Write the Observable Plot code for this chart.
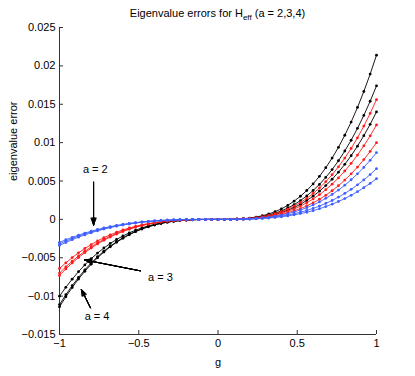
<!DOCTYPE html>
<html><head><meta charset="utf-8">
<script src="https://cdn.jsdelivr.net/npm/d3@7"></script>
<script src="https://cdn.jsdelivr.net/npm/@observablehq/plot@0.6"></script>
<style>
body{margin:0;background:#fff;font-family:"Liberation Sans",Arial,sans-serif;}
#title{position:relative;height:20px;width:415px;}
#title div{position:absolute;left:59px;width:317px;top:7px;text-align:center;font-size:11px;line-height:12px;color:#000;white-space:nowrap}
#title sub{font-size:8px;vertical-align:-3px;line-height:0}
</style></head><body>
<div id="title"><div>Eigenvalue errors for H<sub>eff</sub> (a = 2,3,4)</div></div>
<div id="chart"></div>
<script>
const gValues = [-1,-0.96,-0.92,-0.88,-0.84,-0.8,-0.76,-0.72,-0.68,-0.64,-0.6,-0.56,-0.52,-0.48,-0.44,-0.4,-0.36,-0.32,-0.28,-0.24,-0.2,-0.16,-0.12,-0.08,-0.04,0,0.04,0.08,0.12,0.16,0.2,0.24,0.28,0.32,0.36,0.4,0.44,0.48,0.52,0.56,0.6,0.64,0.68,0.72,0.76,0.8,0.84,0.88,0.92,0.96,1];

// a = 4 (black)
const black1 = [-0.01,-0.00885,-0.00779,-0.00681,-0.00593,-0.00512,-0.00439,-0.00373,-0.00314,-0.00262,-0.00216,-0.00176,-0.00141,-0.00111,-0.00085,-0.00064,-0.00047,-0.00033,-0.00022,-0.00014,-0.00008,-0.00004,-0.00002,-0.00001,0,0,0,0.00001,0.00004,0.00009,0.00017,0.0003,0.00047,0.0007,0.001,0.00137,0.00182,0.00237,0.00301,0.00376,0.00462,0.00561,0.00673,0.00799,0.00939,0.01096,0.01268,0.01458,0.01666,0.01893,0.0214];
const black2 = [-0.0111,-0.00982,-0.00864,-0.00756,-0.00658,-0.00568,-0.00487,-0.00414,-0.00349,-0.00291,-0.0024,-0.00195,-0.00156,-0.00123,-0.00095,-0.00071,-0.00052,-0.00036,-0.00024,-0.00015,-0.00009,-0.00005,-0.00002,-0.00001,0,0,0,0.00001,0.00003,0.00007,0.00014,0.00024,0.00038,0.00057,0.00081,0.00111,0.00148,0.00192,0.00245,0.00306,0.00376,0.00456,0.00547,0.00649,0.00764,0.00891,0.01031,0.01186,0.01355,0.01539,0.0174];
const black3 = [-0.0114,-0.01009,-0.00888,-0.00777,-0.00676,-0.00584,-0.005,-0.00426,-0.00358,-0.00299,-0.00246,-0.002,-0.0016,-0.00126,-0.00097,-0.00073,-0.00053,-0.00037,-0.00025,-0.00016,-0.00009,-0.00005,-0.00002,-0.00001,0,0,0,0.00001,0.00002,0.00006,0.00011,0.00019,0.00031,0.00046,0.00065,0.0009,0.00119,0.00155,0.00197,0.00246,0.00302,0.00367,0.0044,0.00523,0.00615,0.00717,0.0083,0.00954,0.0109,0.01239,0.014];
// a = 3 (red)
const red1 = [-0.0064,-0.00566,-0.00498,-0.00436,-0.00379,-0.00328,-0.00281,-0.00239,-0.00201,-0.00168,-0.00138,-0.00112,-0.0009,-0.00071,-0.00055,-0.00041,-0.0003,-0.00021,-0.00014,-0.00009,-0.00005,-0.00003,-0.00001,0,0,0,0,0.00001,0.00003,0.00006,0.00012,0.00022,0.00034,0.00051,0.00073,0.001,0.00133,0.00173,0.00219,0.00274,0.00337,0.00409,0.00491,0.00582,0.00685,0.00799,0.00925,0.01063,0.01215,0.0138,0.0156];
const red2 = [-0.007,-0.00619,-0.00545,-0.00477,-0.00415,-0.00358,-0.00307,-0.00261,-0.0022,-0.00184,-0.00151,-0.00123,-0.00098,-0.00077,-0.0006,-0.00045,-0.00033,-0.00023,-0.00015,-0.0001,-0.00006,-0.00003,-0.00001,0,0,0,0,0.00001,0.00002,0.00005,0.0001,0.00017,0.00027,0.0004,0.00057,0.00079,0.00105,0.00136,0.00173,0.00216,0.00266,0.00322,0.00387,0.00459,0.0054,0.0063,0.00729,0.00838,0.00958,0.01088,0.0123];
const red3 = [-0.0073,-0.00646,-0.00568,-0.00497,-0.00433,-0.00374,-0.0032,-0.00272,-0.0023,-0.00191,-0.00158,-0.00128,-0.00103,-0.00081,-0.00062,-0.00047,-0.00034,-0.00024,-0.00016,-0.0001,-0.00006,-0.00003,-0.00001,0,0,0,0,0.00001,0.00002,0.00004,0.00008,0.00014,0.00022,0.00033,0.00047,0.00064,0.00085,0.00111,0.00141,0.00176,0.00216,0.00262,0.00314,0.00373,0.00439,0.00512,0.00593,0.00681,0.00779,0.00885,0.01];
// a = 2 (blue)
const blue1 = [-0.003,-0.00265,-0.00234,-0.00204,-0.00178,-0.00154,-0.00132,-0.00112,-0.00094,-0.00079,-0.00065,-0.00053,-0.00042,-0.00033,-0.00026,-0.00019,-0.00014,-0.0001,-0.00007,-0.00004,-0.00002,-0.00001,-0.00001,0,0,0,0,0,0.00002,0.00004,0.00007,0.00012,0.00019,0.00029,0.00041,0.00056,0.00074,0.00096,0.00122,0.00153,0.00188,0.00228,0.00274,0.00325,0.00382,0.00445,0.00516,0.00593,0.00677,0.0077,0.0087];
const blue2 = [-0.0032,-0.00283,-0.00249,-0.00218,-0.0019,-0.00164,-0.0014,-0.00119,-0.00101,-0.00084,-0.00069,-0.00056,-0.00045,-0.00035,-0.00027,-0.0002,-0.00015,-0.0001,-0.00007,-0.00004,-0.00003,-0.00001,-0.00001,0,0,0,0,0,0.00001,0.00003,0.00005,0.00009,0.00014,0.00022,0.00031,0.00042,0.00056,0.00073,0.00093,0.00116,0.00143,0.00173,0.00208,0.00246,0.0029,0.00338,0.00391,0.0045,0.00514,0.00584,0.0066];
const blue3 = [-0.0034,-0.00301,-0.00265,-0.00232,-0.00202,-0.00174,-0.00149,-0.00127,-0.00107,-0.00089,-0.00073,-0.0006,-0.00048,-0.00038,-0.00029,-0.00022,-0.00016,-0.00011,-0.00007,-0.00005,-0.00003,-0.00001,-0.00001,0,0,0,0,0,0.00001,0.00002,0.00004,0.00007,0.00012,0.00017,0.00025,0.00034,0.00045,0.00059,0.00075,0.00093,0.00114,0.00139,0.00167,0.00198,0.00233,0.00271,0.00314,0.00361,0.00413,0.00469,0.0053];

const xTicks = [-1, -0.5, 0, 0.5, 1];
const yTicks = [-0.015, -0.01, -0.005, 0, 0.005, 0.01, 0.015, 0.02, 0.025];

// annotations
const annoText = ["a = 2", "a = 3", "a = 4"];
const annoTextG = [-0.774, -0.363, -0.763];
const annoTextE = [0.00647, -0.00756, -0.0127];
const arrowG1 = [-0.785, -0.49, -0.805];
const arrowE1 = [0.00484, -0.00671, -0.01152];
const arrowG2 = [-0.785, -0.841, -0.862];
const arrowE2 = [-0.00074, -0.00529, -0.00912];

const colBlack = "#000000", colRed = "#ff1a1a", colBlue = "#3f5fff";

function toRows(series, name) {
  return series.map((v, i) => ({g: gValues[i], e: v, curve: name}));
}
const blackRows = [...toRows(black1, "b1"), ...toRows(black2, "b2"), ...toRows(black3, "b3")];
const redRows = [...toRows(red1, "r1"), ...toRows(red2, "r2"), ...toRows(red3, "r3")];
const blueRows = [...toRows(blue1, "l1"), ...toRows(blue2, "l2"), ...toRows(blue3, "l3")];

const fmt = d => (Math.abs(d) < 1e-12 ? "0" : String(+d.toFixed(3)).replace("-", "\u2212"));

const seriesMarks = [];
for (const [rows, col] of [[blackRows, colBlack], [redRows, colRed], [blueRows, colBlue]]) {
  seriesMarks.push(Plot.line(rows, {x: "g", y: "e", z: "curve", stroke: col, strokeWidth: 0.9}));
  seriesMarks.push(Plot.dot(rows, {x: "g", y: "e", fill: col, r: 1.4, stroke: null}));
}

const idx = annoText.map((_, i) => i);
const arrowMarks = [4, 12, 22, 32, 42].map(a => Plot.arrow(idx, {
  x1: i => arrowG1[i], y1: i => arrowE1[i], x2: i => arrowG2[i], y2: i => arrowE2[i],
  stroke: "#000", strokeWidth: 1, headLength: 11, headAngle: a
}));

const chart = Plot.plot({
  width: 415, height: 356,
  marginLeft: 59, marginRight: 39, marginTop: 7, marginBottom: 42,
  style: {fontFamily: '"Liberation Sans", Arial, sans-serif', fontSize: "11px", color: "#000", background: "#fff", overflow: "visible"},
  x: {domain: [-1, 1]},
  y: {domain: [-0.015, 0.025]},
  marks: [
    Plot.axisX(xTicks, {tickSize: -4, tickPadding: 9, tickFormat: fmt, label: null, stroke: "#333", fill: "#000"}),
    Plot.axisY(yTicks, {tickSize: -4, tickPadding: 8, tickFormat: fmt, label: null, stroke: "#333", fill: "#000"}),
    Plot.ruleX([-1], {stroke: "#333"}),
    Plot.ruleY([-0.015], {stroke: "#333"}),
    ...seriesMarks,
    ...arrowMarks,
    Plot.text(idx, {x: i => annoTextG[i], y: i => annoTextE[i], text: i => annoText[i], fill: "#000", textAnchor: "middle"}),
    Plot.text(["g"], {frameAnchor: "bottom", dy: 27.5, fill: "#000", lineAnchor: "middle"}),
    Plot.text(["eigenvalue error"], {frameAnchor: "left", dx: -46, rotate: -90, fill: "#000", lineAnchor: "middle"})
  ]
});
document.getElementById("chart").appendChild(chart);
</script>
</body></html>
